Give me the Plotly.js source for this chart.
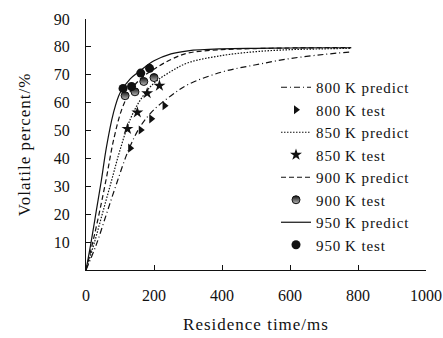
<!DOCTYPE html>
<html><head><meta charset="utf-8">
<script src="https://cdn.plot.ly/plotly-3.0.1.min.js"></script>
<style>html,body{margin:0;padding:0;background:#fff}#chart{width:443px;height:338px}
.legendtext{letter-spacing:0.9px}
.xtitle,.ytitle{letter-spacing:1px}
</style>
</head><body><div id="chart"></div>
<script>
// Predicted curves
var t800p = [0, 30, 60, 90, 125, 160, 200, 250, 300, 400, 500, 600, 700, 780];
var v800p = [0, 9, 20, 31, 43, 51.5, 57.5, 62.5, 66.5, 71, 73.6, 75.8, 77.3, 78.2];
var t850p = [0, 25, 50, 75, 100, 130, 160, 200, 250, 300, 400, 500, 600, 700, 780];
var v850p = [0, 10, 21, 32, 43, 54, 61, 67, 71.2, 74.3, 76.9, 78.3, 79, 79.3, 79.5];
var t900p = [0, 20, 40, 60, 80, 105, 130, 160, 200, 250, 300, 400, 500, 600, 700, 780];
var v900p = [0, 10, 21, 33, 46, 57.5, 64, 68.5, 72, 75.5, 77.8, 79, 79.4, 79.6, 79.7, 79.7];
var t950p = [0, 15, 30, 45, 60, 80, 100, 130, 160, 200, 250, 300, 400, 500, 600, 700, 780];
var v950p = [0, 10, 21, 32, 44, 56, 63.5, 68.5, 71.5, 75, 77.5, 78.6, 79.3, 79.5, 79.6, 79.7, 79.7];
// Test points
var t800t = [130, 161, 192, 231];
var v800t = [43.7, 50.2, 54.2, 58.9];
var t850t = [122, 151, 180, 216];
var v850t = [50.6, 56.5, 63.4, 66.1];
var t900t = [115, 144, 170, 200];
var v900t = [62.5, 63.9, 67.6, 69.0];
var t950t = [109, 134, 161, 187];
var v950t = [65.1, 65.8, 70.6, 72.3];

var names = ['800\u2009K predict','800\u2009K test','850\u2009K predict','850\u2009K test',
             '900\u2009K predict','900\u2009K test','950\u2009K predict','950\u2009K test'];

function line(x, y, name, dash){
  return {x:x, y:y, name:name, type:'scatter', mode:'lines',
          line:{color:'#111', width:1.2, dash:dash, shape:'spline'}};
}
function pts(x, y, name, marker){
  return {x:x, y:y, name:name, type:'scatter', mode:'markers', marker:marker};
}
var data = [
  line(t800p, v800p, names[0], '6px,3px,1px,3px'),
  pts(t800t, v800t, names[1], {symbol:'triangle-right', size:8, color:'#111'}),
  line(t850p, v850p, names[2], '1.5px,1.5px'),
  pts(t850t, v850t, names[3], {symbol:'star', size:9, color:'#111'}),
  line(t900p, v900p, names[4], '5px,3px'),
  pts(t900t, v900t, names[5], {symbol:'circle', size:8, color:'#111',
        gradient:{type:'vertical', color:'#bbb'}, line:{color:'#111', width:1}}),
  line(t950p, v950p, names[6], 'solid'),
  pts(t950t, v950t, names[7], {symbol:'circle', size:9, color:'#111'})
];

var fam = '"Liberation Serif", "Times New Roman", serif';
var L = 86, R = 17, T = 19, B = 68;
var layout = {
  width:443, height:338,
  margin:{l:L, r:R, t:T, b:B},
  paper_bgcolor:'#fff', plot_bgcolor:'#fff',
  font:{family:fam, size:17, color:'#111'},
  showlegend:true,
  legend:{xref:'paper', yanchor:'top', bgcolor:'rgba(0,0,0,0)',
          font:{family:fam, size:15, color:'#111'}, tracegroupgap:0},
  xaxis:{range:[0,1000], tickvals:[0,200,400,600,800,1000], ticks:'inside', ticklen:5,
         showgrid:false, zeroline:false, showline:true, linecolor:'#111', linewidth:1,
         tickcolor:'#111', ticklabelstandoff:11, tickfont:{family:fam, size:16},
         title:{text:'Residence time/ms', font:{family:fam, size:17}, standoff:14}},
  yaxis:{range:[0,90], tickvals:[10,20,30,40,50,60,70,80,90], ticks:'inside', ticklen:5,
         showgrid:false, zeroline:false, showline:true, linecolor:'#111', linewidth:1,
         tickcolor:'#111', ticklabelstandoff:12, tickfont:{family:fam, size:16},
         title:{text:'Volatile percent/%', font:{family:fam, size:17}, standoff:18}}
};
var pw = 443-L-R, ph = 338-T-B;
layout.legend.x = (276-L)/pw;
layout.legend.y = (270-71)/ph;
Plotly.newPlot('chart', data, layout, {staticPlot:true});
</script></body></html>
